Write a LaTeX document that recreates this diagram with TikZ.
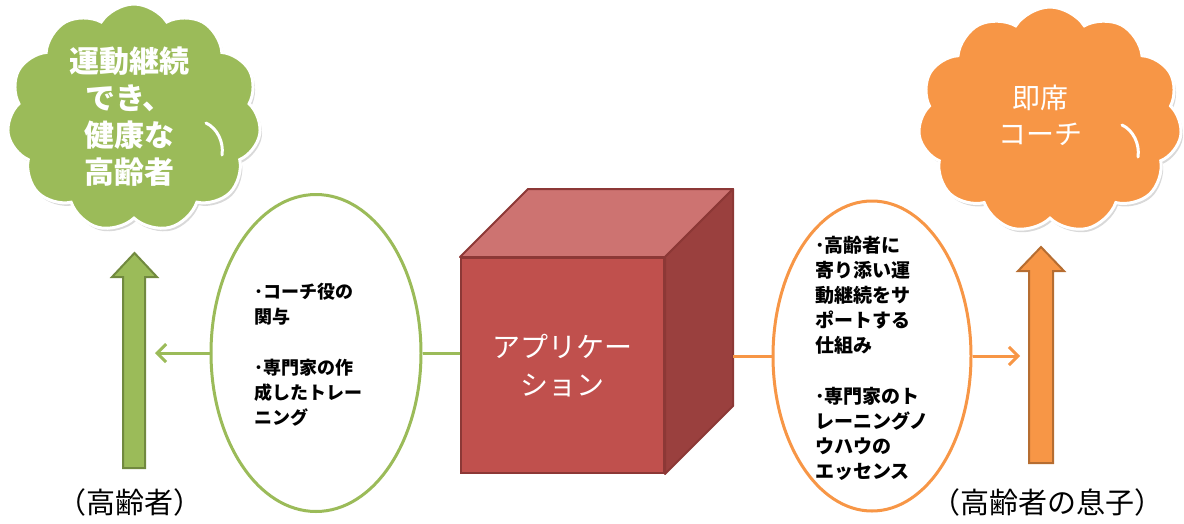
\documentclass[tikz,border=0pt]{standalone}
\usepackage{fontspec}
\setmainfont{Noto Sans CJK JP}
\usetikzlibrary{shapes.symbols,shapes.geometric,shadows,calc,arrows.meta}
\definecolor{ogreen}{HTML}{9BBB59}
\definecolor{dgreen}{HTML}{71893F}
\definecolor{oorange}{HTML}{F79646}
\definecolor{dorange}{HTML}{B66D31}
\definecolor{cfront}{HTML}{C0504D}
\definecolor{ctop}{HTML}{CD7371}
\definecolor{cside}{HTML}{9A403E}
\definecolor{cedge}{HTML}{8C3836}
\tikzset{
  cloudbox/.style={cloud, cloud puffs=11, cloud puff arc=115, cloud ignores aspect,
    draw=white, line width=3pt, inner sep=0pt,
    drop shadow={shadow xshift=2pt, shadow yshift=-3pt, opacity=0.3}},
  cloudarc/.style={draw=white, line width=3pt, line cap=round},
  txtw/.style={text=white, align=center, inner sep=0pt},
  eltxt/.style={text=black, align=left, inner sep=0pt, anchor=west, font=\fontsize{18}{25}\selectfont\bfseries},
  ovalbox/.style={ellipse, line width=3pt, fill=white, inner sep=0pt},
  gline/.style={draw=ogreen, line width=3pt},
  oline/.style={draw=oorange, line width=3pt},
  tipg/.style={-{Straight Barb[length=9pt,width=18pt,line width=3pt]}},
  blockarrow/.style={line width=2pt, line join=miter},
  label/.style={text=black, inner sep=0pt, font=\fontsize{29}{32}\selectfont}
}
\newcommand{\cloudmarks}[1]{%
  \begin{scope}[shift={(#1)}]
    \draw[cloudarc] (72,5) .. controls (83,10) and (90,24) .. (88,37);
  \end{scope}}
\begin{document}
\begin{tikzpicture}[x=1pt,y=-1pt]
\useasboundingbox (0,0) rectangle (1184,523);

% clouds
\node[cloudbox, fill=ogreen, minimum width=254pt, minimum height=228pt] (goalL) at (134,118) {};
\cloudmarks{134,118}
\node[txtw, font=\fontsize{30}{37}\selectfont\bfseries] (goalLt) at (129,117) {運動継続\\でき、\\健康な\\高齢者};
\node[cloudbox, fill=oorange, minimum width=264pt, minimum height=226pt] (goalR) at (1050,120) {};
\cloudmarks{1050,120}
\node[txtw, font=\fontsize{28}{36}\selectfont] (goalRt) at (1040,115) {即席\\コーチ};

% block arrows
\draw[blockarrow, fill=ogreen, draw=dgreen] (123,468) -- (123,277) -- (112,277) -- (134.5,253) -- (157,277) -- (145,277) -- (145,468) -- cycle;
\draw[blockarrow, fill=oorange, draw=dorange] (1029,463) -- (1029,271) -- (1018,271) -- (1041,247) -- (1064,271) -- (1053,271) -- (1053,463) -- cycle;

% cube
\node[fill=cfront, draw=cedge, line width=2pt, minimum width=203pt, minimum height=215pt, inner sep=0pt] (cube) at (562.5,365.5) {};
\coordinate (cubeTL) at ($(cube.north west)+(68,-68)$);
\coordinate (cubeTR) at ($(cube.north east)+(68,-68)$);
\coordinate (cubeBR) at ($(cube.south east)+(68,-68)$);
\draw[fill=ctop, draw=cedge, line width=2pt, line join=round] (cube.north west) -- (cubeTL) -- (cubeTR) -- (cube.north east) -- cycle;
\draw[fill=cside, draw=cedge, line width=2pt, line join=round] (cube.north east) -- (cubeTR) -- (cubeBR) -- (cube.south east) -- cycle;
\node[txtw, font=\fontsize{28}{38}\selectfont] (cubet) at (562,366) {アプリケー\\ション};

% ellipses
\node[ovalbox, draw=ogreen, minimum width=210pt, minimum height=317pt] (ellL) at (316,353) {};
\node[eltxt] (ellLt) at (254,355) {･コーチ役の\\関与\\[26pt]･専門家の作\\成したトレー\\ニング};
\node[ovalbox, draw=oorange, minimum width=198pt, minimum height=310pt] (ellR) at (872,356) {};
\node[eltxt, font=\fontsize{19}{25}\selectfont\bfseries] (ellRt) at (815,358) {･高齢者に\\寄り添い運\\動継続をサ\\ポートする\\仕組み\\[26pt]･専門家のト\\レーニングノ\\ウハウの\\エッセンス};

% connectors
\coordinate (endL) at (155,353);
\coordinate (endR) at (1020,353);
\coordinate (cubeR) at ($(cube.east)+(68,0)$);
\draw[gline] (cube.west |- ellL.east) -- (ellL.east);
\draw[gline, tipg] (ellL.west) -- (endL);
\draw[oline] (cubeR |- ellR.west) -- (ellR.west);
\draw[oline, tipg] (ellR.east) -- (endR |- ellR.east);

% labels
\node[label] (labL) at (130,502) {（高齢者）};
\node[label] (labR) at (1047,502) {（高齢者の息子）};
\end{tikzpicture}
\end{document}
